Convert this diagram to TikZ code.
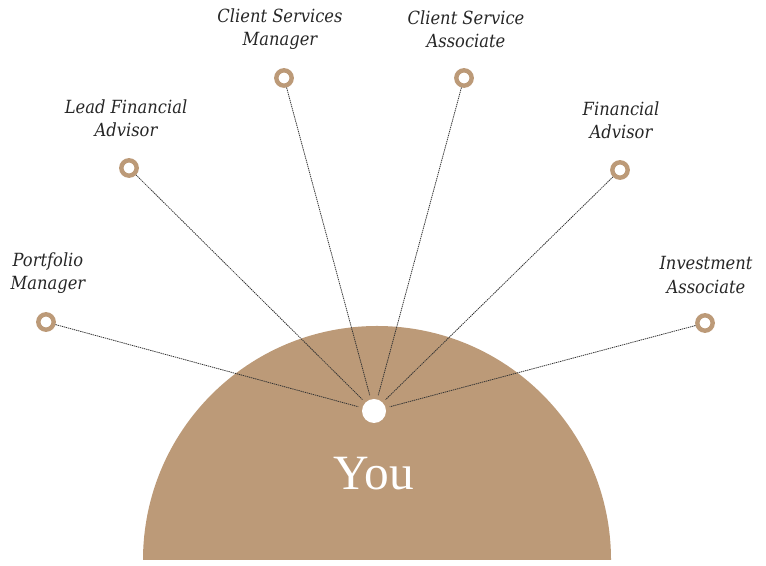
\documentclass[tikz,border=0pt]{standalone}
\usepackage{fontspec}
\setmainfont{Liberation Serif}
\newfontfamily\rolefont{DejaVu Serif Condensed}
\definecolor{tan}{HTML}{BC9A78}
\begin{document}
\begin{tikzpicture}[x=0.75pt,y=0.75pt]
\tikzset{
  ring/.style={circle, draw=tan, line width=3.3pt, minimum size=11.5pt, inner sep=0pt},
  role/.style={align=center, font=\rolefont\itshape\fontsize{13.6}{17.3}\selectfont, text=black!85},
  link/.style={black!80, line width=0.6pt, dash pattern=on 1pt off 0.6pt, shorten >=3pt}
}
\useasboundingbox (0,0) rectangle (766,566);
\fill[tan] (143,6) arc (180:0:234) -- cycle;
\node[circle, fill=white, minimum size=18pt, inner sep=0pt] (you) at (374,155) {};
\node[text=white, font=\fontsize{37}{40}\selectfont] (youlabel) at (374,92) {You};
\node[ring] (pm) at (46,244) {};
\node[ring] (lfa) at (129,398) {};
\node[ring] (csm) at (284,488) {};
\node[ring] (csa) at (464,488) {};
\node[ring] (fa) at (620,396) {};
\node[ring] (ia) at (705,243) {};
\node[role] (pmtext) at (48,293) {Portfolio\\Manager};
\node[role] (lfatext) at (126,448) {Lead Financial\\Advisor};
\node[role] (csmtext) at (280,537) {Client Services\\Manager};
\node[role] (csatext) at (466,537) {Client Service\\Associate};
\node[role] (fatext) at (621,446) {Financial\\Advisor};
\node[role] (iatext) at (706,291) {Investment\\Associate};
\draw[link] (pm) -- (you);
\draw[link] (lfa) -- (you);
\draw[link] (csm) -- (you);
\draw[link] (csa) -- (you);
\draw[link] (fa) -- (you);
\draw[link] (ia) -- (you);
\end{tikzpicture}
\end{document}
